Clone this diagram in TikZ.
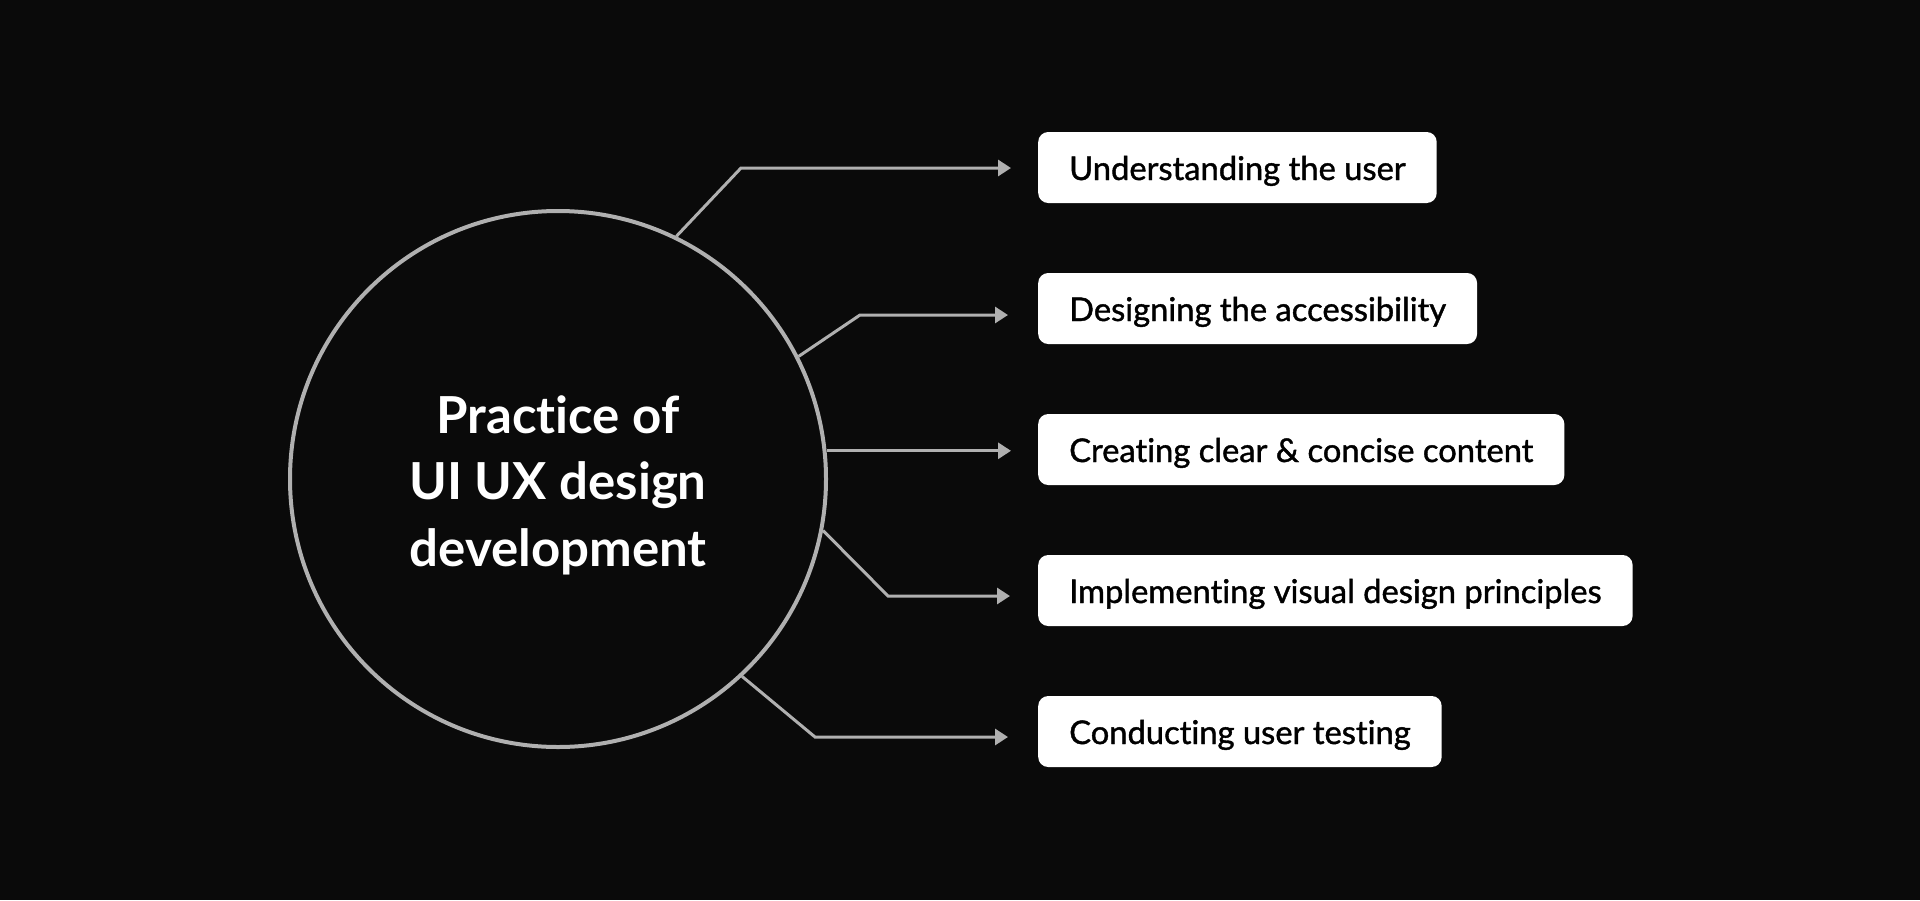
\documentclass[tikz,border=0pt]{standalone}
\usepackage{fontspec}
\setmainfont{Lato}[Ligatures={NoCommon}]
\newfontfamily\boxfont{Lato}[FakeBold=1.2,Ligatures={NoCommon}]
\usetikzlibrary{arrows.meta}
\definecolor{bg}{HTML}{0A0A0A}
\definecolor{linegray}{HTML}{B0B0B0}
\begin{document}
\begin{tikzpicture}[x=1pt,y=-1pt,
  conn/.style={draw=linegray,line width=3pt,-{Triangle[length=13pt,width=16pt]}},
  itembox/.style={fill=white,rounded corners=10pt,minimum height=71pt,inner xsep=31pt,inner ysep=0pt,text height=25pt,text depth=0pt,anchor=west,text=black,font=\boxfont\fontsize{32.7}{38}\selectfont},
  hub/.style={circle,draw=linegray,line width=4pt,minimum size=536pt,inner sep=0pt},
  hubtext/.style={text=white,align=center,inner sep=0pt,font=\bfseries\fontsize{51}{66.5}\selectfont}]
\fill[bg] (0,0) rectangle (1920,900);
\useasboundingbox (0,0) rectangle (1920,900);
\node[hub] (c) at (558,479) {};
\node[hubtext] (ct) at (558,485) {Practice of\\UI UX design\\development};
\node[itembox] (b1) at (1038,167.5) {Understanding the user};
\node[itembox] (b2) at (1038,308.5) {Designing the accessibility};
\node[itembox] (b3) at (1038,449.5) {Creating clear \& concise content};
\node[itembox] (b4) at (1038,590.5) {Implementing visual design principles};
\node[itembox] (b5) at (1038,731.5) {Conducting user testing};
\coordinate (k1) at (741,168);
\coordinate (t1) at (1011,168);
\coordinate (k2) at (860,315);
\coordinate (t2) at (1008,315);
\coordinate (t3) at (1011,449);
\coordinate (k4) at (888,596);
\coordinate (t4) at (1010,596);
\coordinate (k5) at (815,737);
\coordinate (t5) at (1008,737);
\draw[conn] (c.64.1) -- (k1) -- (t1);
\draw[conn] (c.27.2) -- (k2) -- (t2);
\draw[conn] (c.6.4) -- (c.6.4 -| t3);
\draw[conn] (c.-11.3) -- (k4) -- (t4);
\draw[conn] (c.-47.8) -- (k5) -- (t5);
\end{tikzpicture}
\end{document}
